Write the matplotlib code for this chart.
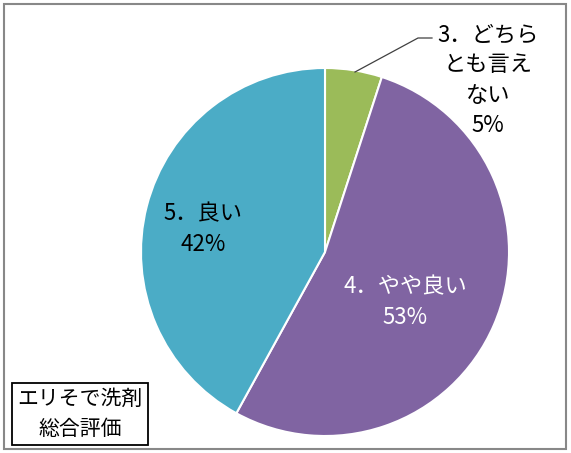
import matplotlib
matplotlib.use("Agg")
import matplotlib.pyplot as plt
from matplotlib.patches import Rectangle

plt.rcParams['font.family'] = ['Noto Sans CJK JP', 'DejaVu Sans']

labels = ["3．どちら\nとも言え\nない", "4．やや良い", "5．良い"]
values = [5, 53, 42]
colors = ["#9BBB59", "#8064A2", "#4BACC6"]

W, H = 571, 453
fig = plt.figure(figsize=(W/100, H/100), dpi=100)
cx, cy, r = 325, 252, 184
ax = fig.add_axes([(cx - r)/W, (H - cy - r)/H, 2*r/W, 2*r/H])
wedges, _ = ax.pie(values, colors=colors, startangle=90, counterclock=False,
                   radius=1, wedgeprops=dict(edgecolor="white", linewidth=1.5))
ax.set_xlim(-1, 1); ax.set_ylim(-1, 1); ax.set_aspect('equal')
ax.axis('off')

def px(x, y):
    return ((x - cx)/r, (cy - y)/r)

fs = 16
ax.text(*px(203, 229), f"{labels[2]}\n{values[2]}%", ha='center', va='center',
        fontsize=fs, color='black', linespacing=1.4)
ax.text(*px(405, 302), f"{labels[1]}\n{values[1]}%", ha='center', va='center',
        fontsize=fs, color='white', linespacing=1.4)
ax.text(*px(488, 80), f"{labels[0]}\n{values[0]}%", ha='center', va='center',
        fontsize=fs, color='black', linespacing=1.4)
p1 = px(355, 72); p2 = px(418, 38); p3 = px(432, 38)
ax.plot([p1[0], p2[0], p3[0]], [p1[1], p2[1], p3[1]], color='#404040', lw=0.9,
        clip_on=False)

fig.text(80/W, 1 - 414/H, "エリそで洗剤\n総合評価", ha='center', va='center',
         fontsize=15, color='black', linespacing=1.45,
         bbox=dict(boxstyle='square,pad=0.25', facecolor='white', edgecolor='black', lw=1.3))

fig.patches.append(Rectangle((4/W, 4/H), 562/W, 445/H, transform=fig.transFigure,
                             fill=False, edgecolor='#888888', lw=1.5))
fig.savefig("out.png", dpi=100)
